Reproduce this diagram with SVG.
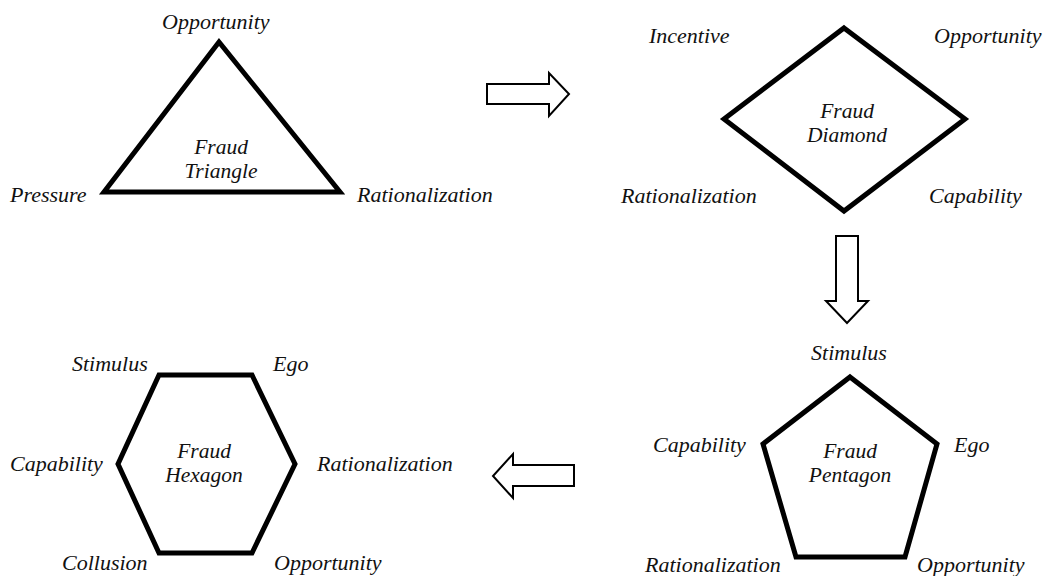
<svg xmlns="http://www.w3.org/2000/svg" width="1044" height="576" viewBox="0 0 1044 576">
<style>
text{font-family:"Liberation Serif","Times New Roman",serif;font-style:italic;font-size:22px;fill:#111}
.c{text-anchor:middle;font-size:21.5px}
.shape{fill:none;stroke:#000;stroke-width:5;stroke-linejoin:miter}
.arrow{fill:#fff;stroke:#000;stroke-width:2;stroke-linejoin:miter}
</style>
<rect width="1044" height="576" fill="#fff"/>
<g id="triangle">
<polygon class="shape" points="219,42 104,192 340,192"/>
<text x="162" y="29">Opportunity</text>
<text x="10" y="202">Pressure</text>
<text x="357" y="202">Rationalization</text>
<text class="c" x="221" y="154">Fraud</text>
<text class="c" x="221" y="178">Triangle</text>
</g>
<g id="diamond">
<polygon class="shape" points="844,28 965,119 844,211 724,119"/>
<text x="649" y="43">Incentive</text>
<text x="934" y="43">Opportunity</text>
<text x="621" y="203">Rationalization</text>
<text x="929" y="203">Capability</text>
<text class="c" x="847" y="118">Fraud</text>
<text class="c" x="847" y="142">Diamond</text>
</g>
<g id="pentagon">
<polygon class="shape" points="850,377 937,444 905,557 796,557 763,444"/>
<text class="c" x="849" y="360" style="font-size:22px">Stimulus</text>
<text x="653" y="452">Capability</text>
<text x="954" y="452">Ego</text>
<text x="645" y="572">Rationalization</text>
<text x="917" y="572">Opportunity</text>
<text class="c" x="850" y="458">Fraud</text>
<text class="c" x="850" y="482">Pentagon</text>
</g>
<g id="hexagon">
<polygon class="shape" points="159,375 252,375 295,464 252,553 159,553 118,464"/>
<text x="72" y="371">Stimulus</text>
<text x="273" y="371">Ego</text>
<text x="10" y="471">Capability</text>
<text x="317" y="471">Rationalization</text>
<text x="62" y="570">Collusion</text>
<text x="274" y="570">Opportunity</text>
<text class="c" x="204" y="458">Fraud</text>
<text class="c" x="204" y="482">Hexagon</text>
</g>
<g id="connectors">
<polygon class="arrow" points="487,84 549,84 549,73 569,94 549,116 549,104 487,104"/>
<polygon class="arrow" points="836,236 858,236 858,301 868,301 847,323 826,301 836,301"/>
<polygon class="arrow" points="574,465 513,465 513,454 493,476 513,498 513,486 574,486"/>
</g>
</svg>
